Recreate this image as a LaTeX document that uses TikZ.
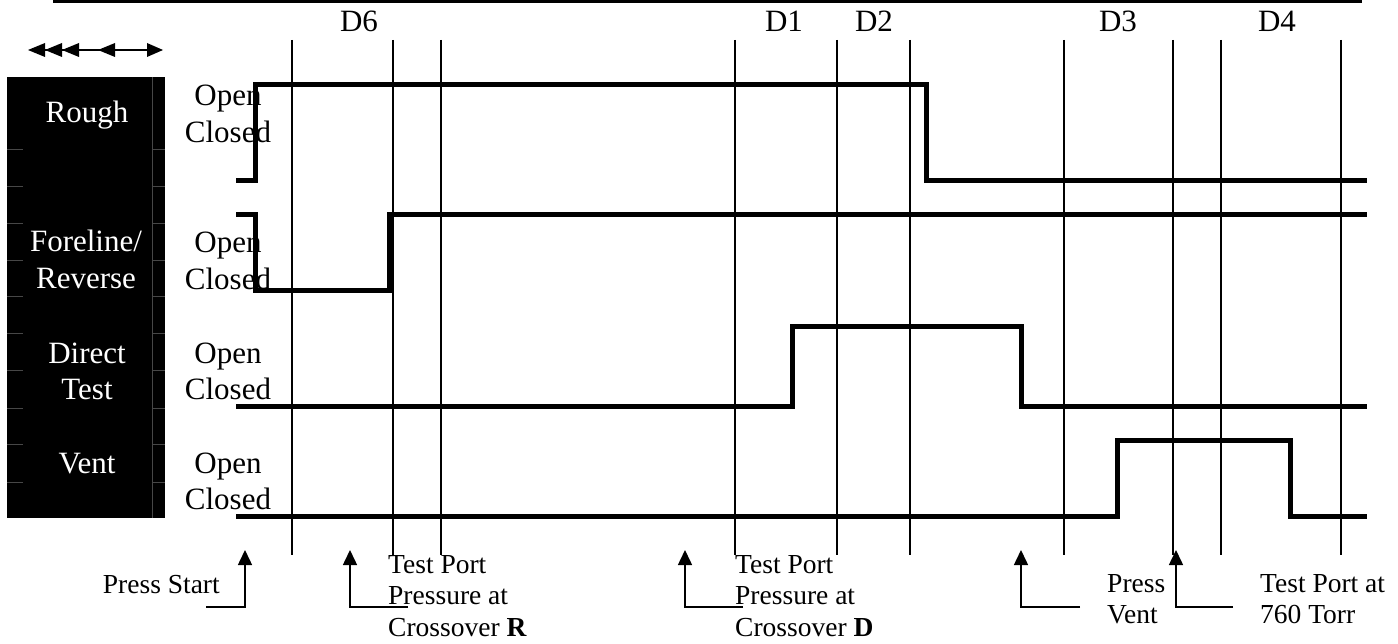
\documentclass[tikz,border=0pt]{standalone}
\usepackage{fontspec}
\setmainfont{Liberation Serif}
\usetikzlibrary{arrows.meta}
\tikzset{
  sig/.style={line width=5pt, line join=miter},
  gridline/.style={line width=2pt},
  cellline/.style={line width=1pt, draw=black!72},
  lab/.style={font=\fontsize{31}{36.5}\selectfont, inner sep=0pt, anchor=base},
  wlab/.style={lab, text=white},
  note/.style={font=\fontsize{27.5}{31.5}\selectfont, inner sep=0pt},
  callout/.style={line width=1.5pt, -{Triangle[length=15pt,width=14pt]}},
  headfill/.style={fill=black, draw=none},
}
\begin{document}
\begin{tikzpicture}[x=1pt,y=-1pt]
\useasboundingbox (0,0) rectangle (1398,644);
% top frame edge
\draw[line width=2.5pt] (53,1.5) -- (1362,1.5);
% legend double arrow
\draw[line width=1.5pt] (30,50) -- (160,50);
\foreach \t in {28,45,62,98}{
  \path[headfill] (\t,50) -- (\t+17,43) -- (\t+17,57) -- cycle;
}
\path[headfill] (163,50) -- (147,43) -- (147,57) -- cycle;
% black label column
\fill[black] (7,77) rectangle (165,518);
\draw[cellline] (152,77) -- (152,518);
\foreach \yy in {150,187,224,261,297,334,371,408,444,482}{
  \draw[cellline] (7,\yy) -- (23,\yy);
  \draw[cellline] (152,\yy) -- (165,\yy);
}
\node[wlab] (rough) at (87,123) {Rough};
\node[wlab] (fore) at (86,252) {\begin{tabular}[t]{@{}c@{}}Foreline/\\Reverse\end{tabular}};
\node[wlab] (direct) at (87,363) {\begin{tabular}[t]{@{}c@{}}Direct\\Test\end{tabular}};
\node[wlab] (vent) at (87,473) {Vent};
% open/closed labels
\node[lab] (oc1) at (228,106) {\begin{tabular}[t]{@{}c@{}}Open\\Closed\end{tabular}};
\node[lab] (oc2) at (228,253) {\begin{tabular}[t]{@{}c@{}}Open\\Closed\end{tabular}};
\node[lab] (oc3) at (228,363) {\begin{tabular}[t]{@{}c@{}}Open\\Closed\end{tabular}};
\node[lab] (oc4) at (228,473) {\begin{tabular}[t]{@{}c@{}}Open\\Closed\end{tabular}};
% time markers
\foreach \xx in {292,393,441,735,837,910,1064,1173,1221,1341}{
  \draw[gridline] (\xx,40) -- (\xx,555);
}
\node[lab] (d6) at (359,32) {D6};
\node[lab] (d1) at (784,32) {D1};
\node[lab] (d2) at (874,32) {D2};
\node[lab] (d3) at (1118,32) {D3};
\node[lab] (d4) at (1277,32) {D4};
% valve signals
\draw[sig] (236,181) -- (255,181) -- (255,85) -- (926,85) -- (926,181) -- (1367,181);
\draw[sig] (236,215) -- (255,215) -- (255,291) -- (389,291) -- (389,215) -- (1367,215);
\draw[sig] (236,406) -- (792,406) -- (792,327) -- (1021,327) -- (1021,406) -- (1367,406);
\draw[sig] (236,516) -- (1117,516) -- (1117,440) -- (1290,440) -- (1290,516) -- (1367,516);
% callouts
\coordinate (t1) at (245,550); \coordinate (c1) at (245,607); \coordinate (h1) at (206,607);
\coordinate (t2) at (350,550); \coordinate (c2) at (350,607); \coordinate (h2) at (408,607);
\coordinate (t3) at (685,550); \coordinate (c3) at (685,607); \coordinate (h3) at (743,607);
\coordinate (t4) at (1021,550); \coordinate (c4) at (1021,607); \coordinate (h4) at (1080,607);
\coordinate (t5) at (1176,550); \coordinate (c5) at (1176,607); \coordinate (h5) at (1233,607);
\foreach \i in {1,...,5}{ \draw[callout] (h\i) -- (c\i) -- (t\i); }
\node[note, anchor=base east] (n1) at (220,593) {Press Start};
\node[note, anchor=base west] (n2) at (388,573) {\begin{tabular}[t]{@{}l@{}}Test Port\\Pressure at\\Crossover \textbf{R}\end{tabular}};
\node[note, anchor=base west] (n3) at (735,573) {\begin{tabular}[t]{@{}l@{}}Test Port\\Pressure at\\Crossover \textbf{D}\end{tabular}};
\node[note, anchor=base west] (n4) at (1107,592) {\begin{tabular}[t]{@{}l@{}}Press\\Vent\end{tabular}};
\node[note, anchor=base west] (n5) at (1260,592) {\begin{tabular}[t]{@{}l@{}}Test Port at\\760 Torr\end{tabular}};
\end{tikzpicture}
\end{document}
